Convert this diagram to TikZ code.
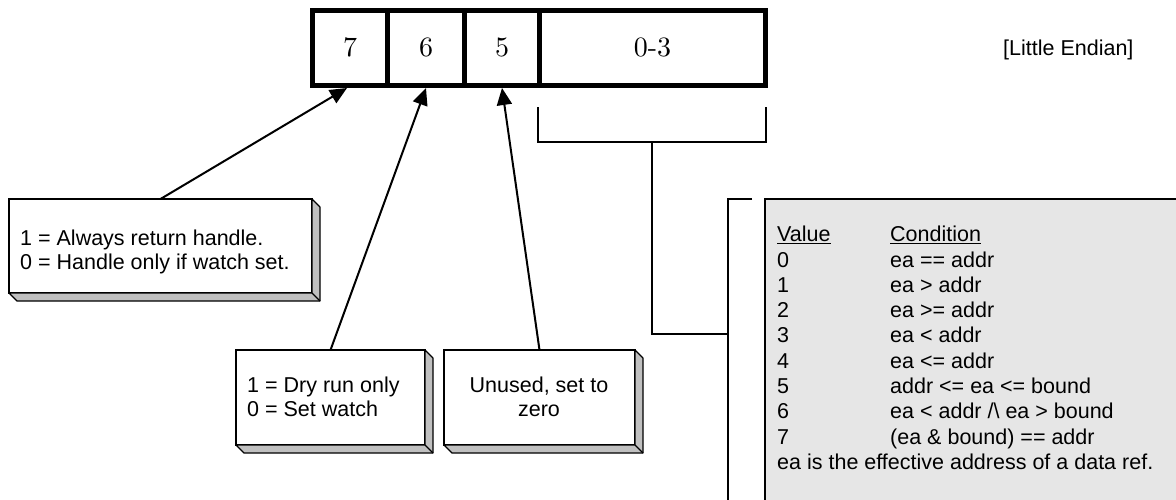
\documentclass[tikz,border=0pt]{standalone}
\usepackage{fontspec}
\newfontfamily\sansf{Liberation Sans}
\newfontfamily\digitf{lmroman10-regular.otf}
\usetikzlibrary{arrows.meta,calc}
\definecolor{faceg}{RGB}{192,192,192}
\definecolor{panelg}{RGB}{230,230,230}
% bevelled side and bottom faces of a note box
\newcommand\notedepth[1]{%
  \filldraw[fill=faceg, line width=1.2pt, line join=round]
    (#1.north east) -- ++(8,8) -- ($(#1.south east)+(8,8)$)
    -- ($(#1.south west)+(8,8)$) -- (#1.south west) -- (#1.south east) -- cycle;
  \draw[line width=1.2pt] (#1.south east) -- ++(8,8);}
\begin{document}
\begin{tikzpicture}[x=1pt,y=-1pt,
  cell/.style={draw, line width=5pt, minimum height=75.5pt, inner sep=0pt,
    font=\digitf\fontsize{28}{30}\selectfont},
  note/.style={draw, line width=1.2pt, fill=white, inner sep=0pt, outer sep=0pt},
  txt/.style={inner sep=0pt, font=\sansf\fontsize{21.5}{24.5}\selectfont},
  ptr/.style={line width=2pt, -{Triangle[length=17pt,width=15pt]}},
  link/.style={line width=2pt}
]
\useasboundingbox (0,0) rectangle (1176,499);
\clip (0,0) rectangle (1176,499);

% register fields
\node[cell, minimum width=75pt]  (c7)  at (350,47.75)   {7};
\node[cell, minimum width=77pt]  (c6)  at (426,47.75)   {6};
\node[cell, minimum width=75pt]  (c5)  at (502,47.75)   {5};
\node[cell, minimum width=226pt] (c03) at (652.5,47.75) {0-3};

\node[txt, anchor=base west] (endian) at (1003,55) {[Little Endian]};

% bit 7 note
\node[note, minimum width=303pt, minimum height=94pt] (n1) at (160.5,246) {};
\notedepth{n1}
\node[txt, anchor=base west] (t1) at (20,245)
  {\begin{tabular}[t]{@{}l@{}}1 = Always return handle.\\0 = Handle only if watch set.\end{tabular}};

% bit 6 note
\node[note, minimum width=189pt, minimum height=95pt] (n2) at (330.5,397.5) {};
\notedepth{n2}
\node[txt, anchor=base west] (t2) at (247,392)
  {\begin{tabular}[t]{@{}l@{}}1 = Dry run only\\0 = Set watch\end{tabular}};

% bit 5 note
\node[note, minimum width=191pt, minimum height=95pt] (n3) at (539.5,397.5) {};
\notedepth{n3}
\node[txt, anchor=base] (t3) at (539,392)
  {\begin{tabular}[t]{@{}c@{}}Unused, set to\\zero\end{tabular}};

% pointers to the fields
\draw[ptr] (n1.north) -- ($(c7.south)+(-3,0)$);
\draw[ptr] (n2.north) -- (c6.south);
\draw[ptr] (n3.north) -- (c5.south);

% condition table for bits 0-3
\node[draw, fill=panelg, line width=2pt, anchor=north west, outer sep=0pt,
  minimum width=440pt, minimum height=330pt] (panel) at (765,199) {};
\node[txt, font=\sansf\fontsize{21.5}{25.3}\selectfont, anchor=base west] (tbl) at (777,241.7)
  {\begin{tabular}[t]{@{}p{113pt}@{}l@{}}
    \underline{Value} & \underline{Condition}\\
    0 & ea == addr\\
    1 & ea > addr\\
    2 & ea >= addr\\
    3 & ea < addr\\
    4 & ea <= addr\\
    5 & addr <= ea <= bound\\
    6 & ea < addr /\textbackslash{} ea > bound\\
    7 & (ea \& bound) == addr\\
    \multicolumn{2}{@{}l@{}}{ea is the effective address of a data ref.}
  \end{tabular}};

% bracket from bits 0-3 to the table
\coordinate (brL) at (538,107);
\coordinate (brR) at (766,107);
\coordinate (stem) at (652,142);
\coordinate (elbow) at (728,334);
\coordinate (capT) at (752,199);
\coordinate (capB) at (728,510);
\draw[link] (brL) -- ++(0,35) -| (brR);
\draw[link] (stem) |- (elbow);
\draw[link] (capT) -| (capB);
\end{tikzpicture}
\end{document}
